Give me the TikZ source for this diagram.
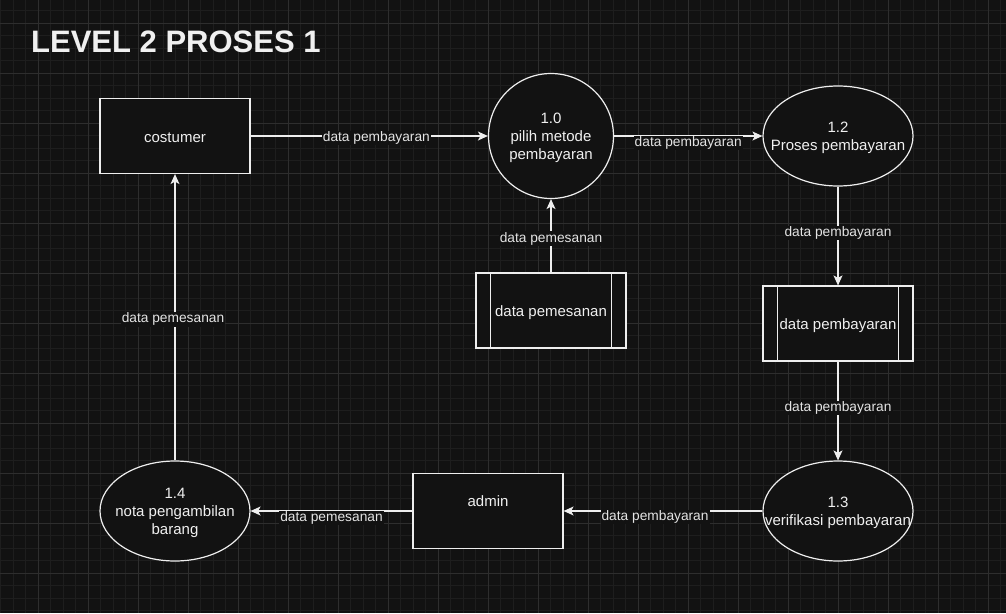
\documentclass[tikz,border=0pt]{standalone}
\usepackage{fontspec}
\setmainfont{Liberation Sans}
\usetikzlibrary{arrows.meta,shapes.geometric}

\definecolor{bg}{HTML}{121212}
\definecolor{gridminor}{HTML}{1E1E1E}
\definecolor{gridmajor}{HTML}{2E2E2E}
\definecolor{lc}{HTML}{EEEEEE}
\definecolor{txc}{HTML}{F0F0F0}
\definecolor{lblc}{HTML}{E4E4E4}
\newcommand{\nodefnt}{\fontsize{15}{18}\selectfont}
\newcommand{\lblfnt}{\fontsize{13.75}{16}\selectfont}

\begin{document}
\begin{tikzpicture}[x=1pt,y=-1pt,
  >={Stealth[length=10pt,width=9pt,inset=2.5pt]},
  ent/.style={rectangle,draw=lc,fill=bg,line width=1.2pt,minimum width=150pt,minimum height=75pt},
  store/.style={ent},
  proc/.style={ellipse,draw=lc,fill=bg,line width=1.2pt,minimum width=150pt,minimum height=100pt,inner sep=0pt},
  txt/.style={text=txc,font=\nodefnt,align=center,yshift=-2pt},
  flow/.style={draw=lc,line width=1.2pt,->},
  lbl/.style={fill=bg,text=lblc,font=\lblfnt,inner sep=1pt,yshift=-2pt}]

% background and grid
\useasboundingbox (0,0) rectangle (1006,613);
\fill[bg] (0,0) rectangle (1006,613);
\foreach \x in {0.5,13,...,1006} \draw[gridminor,line width=0.8pt] (\x,0) -- (\x,613);
\foreach \y in {-2,10.5,...,613} \draw[gridminor,line width=0.8pt] (0,\y) -- (1006,\y);
\foreach \x in {38,88,...,1006} \draw[gridmajor,line width=0.8pt] (\x,0) -- (\x,613);
\foreach \y in {23,73,...,613} \draw[gridmajor,line width=0.8pt] (0,\y) -- (1006,\y);

% title
\node[anchor=base west,text=txc,font=\fontsize{31}{36}\selectfont\bfseries,inner sep=0pt,name=title] at (31,52) {LEVEL 2 PROSES 1};

% entities
\node[ent,name=cust,label={[txt]center:costumer}] at (175,136) {};
\node[ent,name=adm,label={[txt,yshift=12pt]center:admin}] at (488,511) {};

% processes
\node[proc,circle,minimum size=125pt,name=p10,label={[txt]center:{1.0\\pilih metode\\pembayaran}}] at (551,136) {};
\node[proc,name=p12,label={[txt]center:{1.2\\Proses pembayaran}}] at (838,136) {};
\node[proc,name=p13,label={[txt]center:{1.3\\verifikasi pembayaran}}] at (838,511) {};
\node[proc,name=p14,label={[txt]center:{1.4\\nota pengambilan\\barang}}] at (175,511) {};

% data stores
\node[store,name=dpm,label={[txt]center:data pemesanan}] at (551,310.5) {};
\draw[lc,line width=1.2pt] ([xshift=15pt]dpm.north west) -- ([xshift=15pt]dpm.south west);
\draw[lc,line width=1.2pt] ([xshift=-15pt]dpm.north east) -- ([xshift=-15pt]dpm.south east);
\node[store,name=dpb,label={[txt]center:data pembayaran}] at (838,323.5) {};
\draw[lc,line width=1.2pt] ([xshift=15pt]dpb.north west) -- ([xshift=15pt]dpb.south west);
\draw[lc,line width=1.2pt] ([xshift=-15pt]dpb.north east) -- ([xshift=-15pt]dpb.south east);

% flows
\draw[flow] (cust) -- node[lbl,pos=0.53] {data pembayaran} (p10);
\draw[flow] (p10) -- node[lbl,pos=0.5,yshift=-5pt] {data pembayaran} (p12);
\draw[flow] (p12) -- node[lbl,pos=0.45] {data pembayaran} (dpb);
\draw[flow] (dpb) -- node[lbl,pos=0.45] {data pembayaran} (p13);
\draw[flow] (p13) -- node[lbl,pos=0.54,yshift=-4pt] {data pembayaran} (adm);
\draw[flow] (adm) -- node[lbl,pos=0.5,yshift=-5pt] {data pemesanan} (p14);
\draw[flow] (p14) -- node[lbl,pos=0.5,xshift=-2pt] {data pemesanan} (cust);
\draw[flow] (dpm) -- node[lbl,pos=0.49] {data pemesanan} (p10);
\end{tikzpicture}
\end{document}
